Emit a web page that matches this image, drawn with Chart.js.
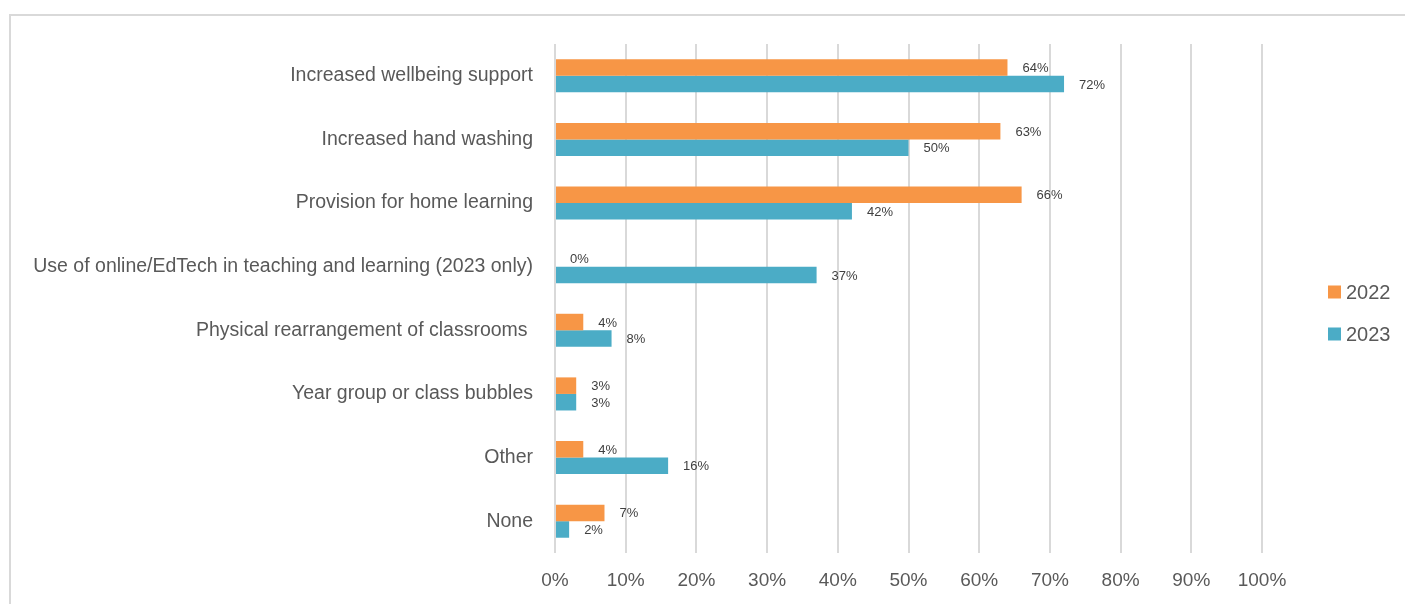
<!DOCTYPE html>
<html>
<head>
<meta charset="utf-8">
<title>Measures in place</title>
<script src="https://cdn.jsdelivr.net/npm/chart.js@4.4.1/dist/chart.umd.min.js"></script>
<style>
  html, body { margin: 0; padding: 0; background: #fff; overflow: hidden; }
  canvas { display: block; }
</style>
</head>
<body>
<canvas id="measuresChart" width="1405" height="604"></canvas>
<script>
const categories = [
    'Increased wellbeing support',
    'Increased hand washing',
    'Provision for home learning',
    'Use of online/EdTech in teaching and learning (2023 only)',
    'Physical rearrangement of classrooms ',
    'Year group or class bubbles',
    'Other',
    'None'
];
const seriesNames = ['2022', '2023'];
const values2022 = [64, 63, 66, 0, 4, 3, 4, 7];
const values2023 = [72, 50, 42, 37, 8, 3, 16, 2];
const tickValues = [0, 10, 20, 30, 40, 50, 60, 70, 80, 90, 100];

const FONT = "'Liberation Sans', Arial, sans-serif";
const colors = ['#f79646', '#4bacc6'];

// light frame round the chart
const framePlugin = {
    id: 'frame',
    beforeDraw(chart) {
        const ctx = chart.ctx;
        ctx.save();
        ctx.strokeStyle = '#d9d9d9';
        ctx.lineWidth = 2;
        ctx.strokeRect(10, 15, chart.width + 20, chart.height + 20);
        ctx.restore();
    }
};

// percentage labels just past the end of each bar
const valueLabels = {
    id: 'valueLabels',
    afterDatasetsDraw(chart) {
        const ctx = chart.ctx;
        ctx.save();
        ctx.font = '13px ' + FONT;
        ctx.fillStyle = '#404040';
        ctx.textAlign = 'left';
        ctx.textBaseline = 'middle';
        chart.data.datasets.forEach((ds, i) => {
            const meta = chart.getDatasetMeta(i);
            meta.data.forEach((bar, j) => {
                ctx.fillText(ds.data[j] + '%', bar.x + 15, bar.y + 1);
            });
        });
        ctx.restore();
    }
};

// legend to the right of the plot, stacked
const sideLegend = {
    id: 'sideLegend',
    afterDraw(chart) {
        const ctx = chart.ctx;
        const area = chart.chartArea;
        const x = area.right + 66;
        const y0 = 292;
        ctx.save();
        ctx.font = '20px ' + FONT;
        ctx.textBaseline = 'middle';
        ctx.textAlign = 'left';
        chart.data.datasets.forEach((ds, i) => {
            const y = y0 + i * 42;
            ctx.fillStyle = ds.backgroundColor;
            ctx.fillRect(x, y - 6.5, 13, 13);
            ctx.fillStyle = '#595959';
            ctx.fillText(ds.label, x + 18, y + 1);
        });
        ctx.restore();
    }
};

const ctx = document.getElementById('measuresChart').getContext('2d');
new Chart(ctx, {
    type: 'bar',
    data: {
        labels: categories,
        datasets: [
            { label: seriesNames[0], data: values2022, backgroundColor: colors[0] },
            { label: seriesNames[1], data: values2023, backgroundColor: colors[1] }
        ]
    },
    options: {
        indexAxis: 'y',
        responsive: false,
        animation: false,
        events: [],
        layout: { padding: { left: 0, top: 44, right: 143, bottom: 9 } },
        datasets: {
            bar: { categoryPercentage: 0.52, barPercentage: 1.0, borderWidth: 0 }
        },
        plugins: {
            legend: { display: false },
            tooltip: { enabled: false }
        },
        scales: {
            x: {
                min: 0,
                max: 100,
                afterBuildTicks(scale) {
                    scale.ticks = tickValues.map(v => ({ value: v }));
                },
                afterFit(scale) { scale.height = 42; },
                grid: { color: '#d9d9d9', lineWidth: 2, drawTicks: false },
                border: { display: false },
                ticks: {
                    padding: 16,
                    color: '#595959',
                    font: { family: FONT, size: 19 },
                    callback: v => v + '%'
                }
            },
            y: {
                afterFit(scale) { scale.width = 555; },
                grid: { display: false, drawTicks: false },
                border: { display: false },
                ticks: {
                    padding: 22,
                    color: '#595959',
                    font: { family: FONT, size: 19.5 }
                }
            }
        }
    },
    plugins: [framePlugin, valueLabels, sideLegend]
});
</script>
</body>
</html>
